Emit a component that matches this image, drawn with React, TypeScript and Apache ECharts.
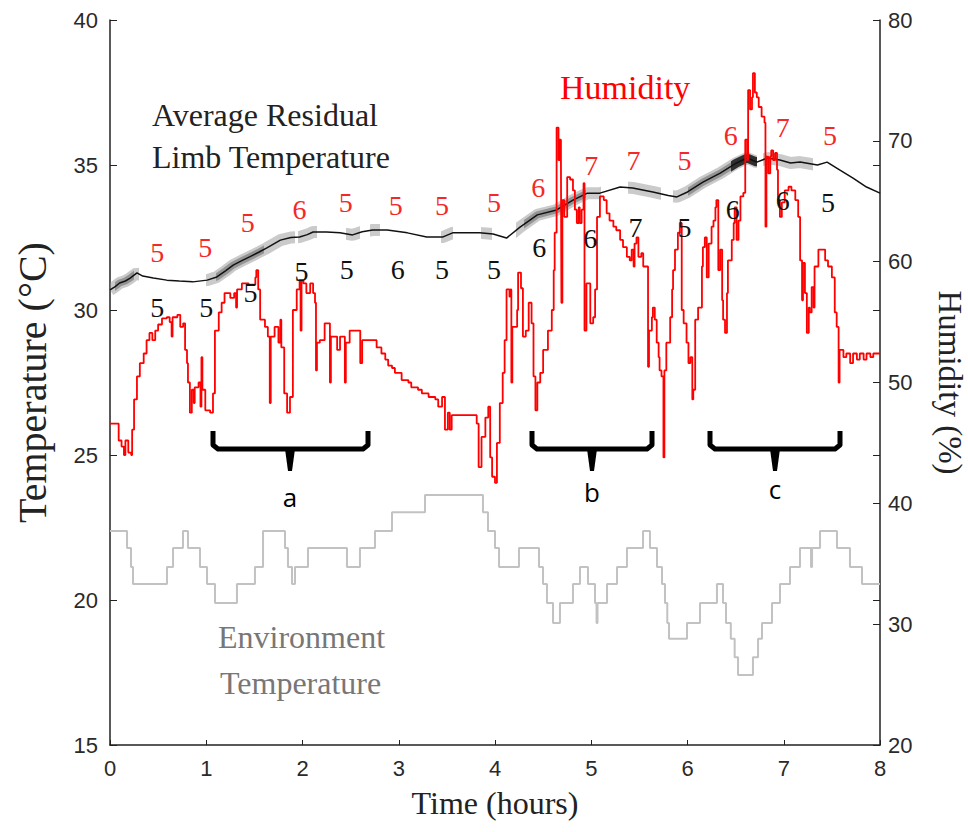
import React, { useEffect, useRef } from "react";
import * as echarts from "echarts";

// Humidity (%) vs time (hours) — right axis
const humidityPoints: [number, number][] = [
  [0, 46.6], [0.09, 45.2], [0.12, 44.7], [0.145, 44.0], [0.16, 45.2], [0.19, 44.2], [0.22, 44.0], [0.23, 46.1],
  [0.25, 48.6], [0.28, 50.5], [0.31, 51.6], [0.35, 52.4], [0.38, 53.5], [0.41, 54.1], [0.44, 53.5], [0.47, 54.3],
  [0.5, 54.8], [0.54, 55.3], [0.59, 55.4], [0.62, 55.0], [0.64, 53.8], [0.65, 55.4], [0.7, 55.6], [0.73, 54.6],
  [0.76, 54.9], [0.78, 52.7], [0.8, 51.6], [0.81, 50.0], [0.83, 47.5], [0.85, 49.4], [0.87, 48.3], [0.88, 49.6],
  [0.92, 50.0], [0.94, 48.0], [0.95, 52.1], [0.96, 49.4], [0.99, 47.7], [1.04, 47.5], [1.07, 49.1], [1.09, 54.3],
  [1.13, 55.8], [1.16, 56.6], [1.19, 57.4], [1.25, 57.0], [1.29, 57.4], [1.31, 56.2], [1.32, 57.7], [1.37, 58.2],
  [1.44, 58.1], [1.51, 58.7], [1.52, 59.3], [1.54, 57.7], [1.56, 55.2], [1.61, 54.6], [1.64, 53.8], [1.66, 48.3],
  [1.67, 53.8], [1.71, 54.6], [1.75, 53.3], [1.77, 55.2], [1.78, 52.9], [1.81, 49.1], [1.84, 47.5], [1.87, 48.8],
  [1.9, 56.0], [1.94, 57.7], [1.97, 58.5], [1.98, 54.3], [1.99, 58.5], [2.01, 58.2], [2.04, 57.4], [2.08, 58.2],
  [2.11, 57.4], [2.13, 56.6], [2.14, 51.0], [2.15, 53.3], [2.18, 53.5], [2.23, 54.9], [2.285, 50.0], [2.295, 53.8],
  [2.36, 52.7], [2.39, 53.8], [2.44, 50.0], [2.45, 53.3], [2.49, 54.3], [2.6, 51.6], [2.62, 53.5], [2.77, 52.9],
  [2.82, 52.4], [2.86, 51.9], [2.89, 51.4], [2.93, 51.2], [2.96, 50.8], [3.03, 50.2], [3.1, 50.0], [3.13, 49.6],
  [3.2, 49.4], [3.24, 49.1], [3.31, 48.8], [3.38, 48.6], [3.41, 48.0], [3.45, 48.8], [3.48, 46.1], [3.51, 47.5],
  [3.53, 46.1], [3.55, 47.3], [3.81, 46.6], [3.83, 43.0], [3.86, 45.5], [3.9, 47.1], [3.93, 48.0], [3.95, 43.8],
  [3.97, 42.2], [4.0, 41.7], [4.02, 45.0], [4.05, 48.3], [4.08, 50.8], [4.1, 53.5], [4.12, 57.7], [4.15, 57.1],
  [4.16, 57.7], [4.17, 50.0], [4.18, 54.6], [4.23, 56.0], [4.24, 59.1], [4.27, 57.8], [4.29, 53.8], [4.32, 54.3],
  [4.35, 56.6], [4.38, 54.9], [4.4, 50.5], [4.42, 47.7], [4.44, 50.0], [4.47, 50.8], [4.5, 52.7], [4.55, 54.3],
  [4.59, 56.0], [4.61, 59.3], [4.62, 62.4], [4.64, 71.1], [4.66, 68.4], [4.67, 70.1], [4.685, 68.4], [4.69, 56.6],
  [4.7, 65.1], [4.72, 63.7], [4.75, 67.0], [4.78, 66.8], [4.81, 65.9], [4.83, 64.3], [4.85, 63.2], [4.87, 64.5],
  [4.88, 63.2], [4.9, 64.3], [4.92, 66.5], [4.93, 54.3], [4.95, 58.2], [4.99, 54.9], [5.02, 55.4], [5.04, 57.7],
  [5.06, 63.7], [5.09, 65.4], [5.13, 65.1], [5.16, 64.0], [5.19, 63.4], [5.23, 62.9], [5.26, 62.6], [5.3, 61.8],
  [5.33, 61.2], [5.37, 60.4], [5.4, 60.1], [5.42, 61.0], [5.44, 59.6], [5.45, 61.5], [5.47, 62.0], [5.49, 60.4],
  [5.52, 60.7], [5.54, 59.6], [5.59, 51.3], [5.6, 54.3], [5.63, 55.4], [5.64, 56.2], [5.66, 55.2], [5.68, 53.3],
  [5.7, 52.1], [5.71, 51.0], [5.73, 50.5], [5.75, 43.8], [5.76, 51.0], [5.78, 53.3], [5.82, 55.4], [5.84, 57.7],
  [5.85, 59.3], [5.87, 61.0], [5.9, 62.4], [5.92, 63.2], [5.94, 56.0], [5.96, 54.9], [5.99, 53.3], [6.01, 51.6],
  [6.03, 52.1], [6.05, 48.6], [6.06, 49.4], [6.08, 55.2], [6.11, 56.2], [6.15, 59.6], [6.16, 61.2], [6.18, 62.0],
  [6.2, 58.7], [6.22, 61.5], [6.25, 62.9], [6.27, 63.4], [6.29, 64.5], [6.3, 65.1], [6.32, 59.3], [6.34, 61.0],
  [6.36, 56.8], [6.37, 55.2], [6.39, 54.1], [6.41, 57.4], [6.42, 60.1], [6.46, 61.8], [6.48, 63.2], [6.49, 64.5],
  [6.51, 61.8], [6.53, 63.4], [6.55, 65.4], [6.58, 65.7], [6.6, 70.1], [6.62, 68.4], [6.63, 74.2], [6.65, 72.6],
  [6.67, 73.6], [6.68, 75.6], [6.7, 74.0], [6.72, 73.6], [6.74, 72.8], [6.77, 72.0], [6.8, 71.5], [6.81, 62.9],
  [6.82, 68.7], [6.84, 67.3], [6.86, 68.7], [6.87, 69.2], [6.89, 68.4], [6.91, 69.0], [6.93, 67.6], [6.94, 65.1],
  [6.96, 63.7], [6.98, 64.9], [7.01, 65.9], [7.05, 66.2], [7.08, 65.9], [7.12, 65.1], [7.15, 63.7], [7.17, 60.1],
  [7.19, 56.8], [7.2, 59.9], [7.22, 57.4], [7.24, 54.1], [7.26, 56.2], [7.27, 55.8], [7.29, 57.9], [7.31, 56.2],
  [7.32, 59.6], [7.36, 61.0], [7.43, 60.1], [7.46, 59.6], [7.5, 58.7], [7.53, 55.8], [7.55, 54.6], [7.57, 50.0],
  [7.58, 52.7], [7.62, 52.1], [7.65, 52.4], [7.69, 51.6], [7.72, 52.4], [7.76, 51.9], [7.79, 52.4], [7.83, 51.9],
  [7.86, 52.4], [7.9, 52.1], [7.93, 52.4], [8.0, 52.4],
];

// Average residual limb temperature (°C) — left axis
const limbPoints: [number, number][] = [
  [0, 30.69], [0.05, 30.8], [0.1, 30.93], [0.16, 31.0], [0.21, 31.1], [0.28, 31.28], [0.34, 31.17], [0.45, 31.1],
  [0.59, 31.03], [0.72, 31.0], [0.86, 30.97], [1.01, 31.03], [1.11, 31.14], [1.2, 31.35], [1.28, 31.55], [1.37, 31.7],
  [1.45, 31.83], [1.55, 32.0], [1.63, 32.14], [1.77, 32.41], [1.88, 32.5], [1.97, 32.52], [2.05, 32.6], [2.11, 32.69],
  [2.25, 32.69], [2.39, 32.66], [2.52, 32.59], [2.62, 32.7], [2.73, 32.76], [2.88, 32.76], [3.09, 32.66], [3.29, 32.52],
  [3.46, 32.52], [3.56, 32.66], [3.71, 32.66], [3.84, 32.66], [3.98, 32.62], [4.12, 32.48], [4.26, 32.86], [4.44, 33.28],
  [4.64, 33.45], [4.81, 33.79], [4.96, 34.03], [5.09, 34.03], [5.3, 34.24], [5.43, 34.21], [5.64, 34.07], [5.8, 33.95],
  [5.89, 33.9], [6.0, 34.07], [6.16, 34.41], [6.34, 34.72], [6.51, 35.07], [6.62, 35.24], [6.72, 35.1], [6.83, 35.24],
  [6.96, 35.17], [7.07, 35.07], [7.17, 35.1], [7.35, 35.0], [7.45, 35.1], [7.58, 34.83], [7.72, 34.55], [7.86, 34.24],
  [8.0, 34.03],
];

// Environment temperature (°C) — left axis, stepped
const envPoints: [number, number][] = [
  [0, 22.38], [0.177, 21.79], [0.218, 21.14], [0.239, 20.55], [0.592, 21.14], [0.655, 21.79], [0.758, 22.38],
  [0.81, 21.79], [0.935, 21.14], [1.008, 20.55], [1.091, 19.9], [1.319, 20.55], [1.506, 21.14], [1.59, 22.38],
  [1.818, 21.79], [1.849, 21.14], [1.891, 20.55], [1.922, 21.14], [2.057, 21.79], [2.462, 21.14], [2.597, 21.79],
  [2.753, 22.38], [2.93, 23.03], [3.273, 23.62], [3.875, 23.03], [3.927, 22.38], [4.0, 21.79], [4.042, 21.14],
  [4.249, 21.79], [4.457, 21.14], [4.499, 20.55], [4.54, 19.9], [4.603, 19.21], [4.675, 19.9], [4.81, 20.55],
  [4.883, 21.14], [4.966, 20.55], [5.039, 19.9], [5.055, 19.21], [5.065, 19.9], [5.164, 20.55], [5.268, 21.14],
  [5.371, 21.79], [5.538, 22.38], [5.61, 21.79], [5.683, 21.14], [5.735, 20.55], [5.766, 19.9], [5.79, 19.21],
  [5.808, 18.66], [5.995, 19.21], [6.13, 19.9], [6.306, 20.55], [6.369, 19.9], [6.4, 19.21], [6.45, 18.66],
  [6.49, 18.03], [6.525, 17.41], [6.68, 18.03], [6.733, 18.66], [6.774, 19.21], [6.878, 19.9], [6.961, 20.55],
  [7.065, 21.14], [7.169, 21.79], [7.283, 21.14], [7.294, 21.79], [7.377, 22.38], [7.553, 21.79], [7.688, 21.14],
  [7.813, 20.55], [8.0, 20.55],
];

// Time ranges with grey scatter cloud around the limb temperature line
const lightBandRanges: [number, number][] = [
  [0, 0.3], [1.0, 1.92], [1.95, 2.15], [2.45, 2.6], [2.7, 2.8], [3.44, 3.56], [3.85, 3.97],
  [4.22, 5.1], [5.38, 5.72], [5.85, 6.72], [6.78, 7.3],
];
const midBandRanges: [number, number][] = [[0.05, 0.25], [1.1, 1.6], [4.3, 4.95], [6.0, 6.45]];
const darkBandRanges: [number, number][] = [[6.45, 6.72]];

// Counts written above (red) and below (black) the limb temperature line
const upperCountTimes = [0.49, 0.99, 1.43, 1.97, 2.45, 2.97, 3.45, 3.99, 4.45, 5.0, 5.44, 5.97, 6.45, 6.99, 7.48];
const upperCountTemps = [31.97, 32.14, 33.03, 33.48, 33.72, 33.59, 33.59, 33.69, 34.24, 34.97, 35.14, 35.17, 36.03, 36.28, 36.03];
const upperCounts = ["5", "5", "5", "6", "5", "5", "5", "5", "6", "7", "7", "5", "6", "7", "5"];
const lowerCountTimes = [0.49, 1.0, 1.46, 1.99, 2.46, 2.99, 3.45, 3.99, 4.46, 4.99, 5.46, 5.97, 6.47, 6.99, 7.46];
const lowerCountTemps = [30.07, 30.1, 30.59, 31.34, 31.38, 31.38, 31.38, 31.41, 32.17, 32.48, 32.83, 32.86, 33.45, 33.79, 33.69];
const lowerCounts = ["5", "5", "5", "5", "5", "6", "5", "5", "6", "6", "7", "5", "6", "6", "5"];

const SERIF = "Liberation Serif";
const SANS = "Liberation Sans";

function bracket(x0: number, x1: number, xc: number, label: string, labelY: number): any[] {
  const top = 431;
  const bar = 449;
  return [
    {
      type: "polyline",
      shape: { points: [[x0, top], [x0, bar - 4], [x0 + 5, bar], [x1 - 5, bar], [x1, bar - 4], [x1, top]] },
      style: { stroke: "#000", lineWidth: 5, fill: null, lineJoin: "round" },
    },
    {
      type: "polygon",
      shape: { points: [[xc - 5, bar], [xc + 5, bar], [xc + 2, 471], [xc - 2, 471]] },
      style: { fill: "#000" },
    },
    {
      type: "text",
      style: {
        x: xc, y: labelY, text: label, fill: "#000",
        font: "26px Open Sans", textAlign: "center", textVerticalAlign: "middle",
      },
    },
  ];
}

function textEl(x: number, y: number, text: string, fill: string, size: number): any {
  return {
    type: "text",
    style: { x, y, text, fill, font: `${size}px ${SERIF}`, textVerticalAlign: "middle" },
  };
}

function bandVisualMap(seriesIndex: number, ranges: [number, number][], color: string): any {
  return {
    type: "piecewise",
    show: false,
    seriesIndex,
    dimension: 0,
    pieces: ranges.map(([a, b]) => ({ gte: a, lte: b, color })),
    outOfRange: { color: "rgba(0,0,0,0)" },
  };
}

export default function App() {
  const ref = useRef<HTMLDivElement>(null);
  useEffect(() => {
    if (!ref.current) return;
    const chart = echarts.init(ref.current, undefined, { renderer: "svg" });
    const axisLine = { show: true, lineStyle: { color: "#222", width: 1.5 } };
    const axisLabel = { fontFamily: SANS, fontSize: 22, color: "#2a2a2a" };
    const staticGraphics = [
      textEl(152, 115, "Average Residual", "#222", 32),
      textEl(152, 157, "Limb Temperature", "#222", 32),
      textEl(560, 87, "Humidity", "#ff0000", 34),
      textEl(218, 637, "Environment", "#777", 32),
      textEl(220, 683, "Temperature", "#777", 32),
      ...bracket(213, 368, 290, "a", 497),
      ...bracket(532, 652, 592, "b", 492),
      ...bracket(710, 840, 775, "c", 489),
    ];
    const option: any = {
      animation: false,
      backgroundColor: "#fff",
      grid: { left: 110, top: 20, right: 88, bottom: 87, outerBoundsMode: "none", containLabel: false },
      xAxis: {
        type: "value", min: 0, max: 8, interval: 1,
        axisLine, axisTick: { inside: true, length: 5, lineStyle: { color: "#222" } },
        axisLabel: { ...axisLabel, margin: 12 },
        splitLine: { show: false },
        name: "Time (hours)", nameLocation: "middle", nameGap: 42,
        nameTextStyle: { fontFamily: SERIF, fontSize: 32, color: "#222" },
      },
      yAxis: [
        {
          type: "value", min: 15, max: 40, interval: 5, position: "left",
          axisLine, axisTick: { inside: true, length: 7, lineStyle: { color: "#222" } },
          axisLabel: { ...axisLabel, margin: 12 },
          splitLine: { show: false },
          name: "Temperature (°C)", nameLocation: "middle", nameGap: 58, nameRotate: 90,
          nameTextStyle: { fontFamily: SERIF, fontSize: 40, color: "#222" },
        },
        {
          type: "value", min: 20, max: 80, interval: 10, position: "right",
          axisLine, axisTick: { inside: true, length: 7, lineStyle: { color: "#222" } },
          axisLabel: { ...axisLabel, margin: 8 },
          splitLine: { show: false },
          name: "Humidity (%)", nameLocation: "middle", nameGap: 53, nameRotate: -90,
          nameTextStyle: { fontFamily: SERIF, fontSize: 33, color: "#222" },
        },
        {
          type: "value", min: 15, max: 40, interval: 5, position: "right",
          axisLine: { show: false }, axisTick: { show: true, inside: true, length: 7, lineStyle: { color: "#222" } },
          axisLabel: { show: false }, splitLine: { show: false },
        },
      ],
      visualMap: [
        bandVisualMap(1, lightBandRanges, "rgba(150,150,150,0.5)"),
        bandVisualMap(2, midBandRanges, "rgba(80,80,80,0.45)"),
        bandVisualMap(3, darkBandRanges, "rgba(20,20,20,0.85)"),
      ],
      series: [
        {
          name: "Environment Temperature", type: "line", step: "end", yAxisIndex: 0,
          data: envPoints, showSymbol: false, lineStyle: { color: "#c2c2c2", width: 2 }, z: 2,
        },
        {
          name: "band-light", type: "line", yAxisIndex: 0, data: limbPoints, showSymbol: false,
          lineStyle: { width: 12 }, z: 3,
        },
        {
          name: "band-mid", type: "line", yAxisIndex: 0, data: limbPoints, showSymbol: false,
          lineStyle: { width: 7 }, z: 3,
        },
        {
          name: "band-dark", type: "line", yAxisIndex: 0, data: limbPoints, showSymbol: false,
          lineStyle: { width: 9 }, z: 3,
        },
        {
          name: "Average Residual Limb Temperature", type: "line", yAxisIndex: 0, data: limbPoints,
          showSymbol: false, lineStyle: { color: "#111", width: 1.5 }, z: 4,
        },
        {
          name: "Humidity", type: "line", step: "end", yAxisIndex: 1, data: humidityPoints,
          showSymbol: false, lineStyle: { color: "#ff0000", width: 1.8 }, z: 5,
        },
      ],
      graphic: staticGraphics,
    };
    chart.setOption(option);

    // Count annotations placed through the chart's own axis scales
    const countText = (t: number, temp: number, text: string, fill: string) => {
      const [px, py] = chart.convertToPixel({ xAxisIndex: 0, yAxisIndex: 0 }, [t, temp]) as number[];
      return {
        type: "text",
        z: 100,
        style: {
          x: px, y: py, text, fill, font: `28px ${SERIF}`,
          textAlign: "center", textVerticalAlign: "middle",
        },
      };
    };
    const counts = [
      ...upperCountTimes.map((t, i) => countText(t, upperCountTemps[i], upperCounts[i], "#f52828")),
      ...lowerCountTimes.map((t, i) => countText(t, lowerCountTemps[i], lowerCounts[i], "#111")),
    ];
    chart.setOption({ graphic: [...staticGraphics, ...counts] });
    return () => chart.dispose();
  }, []);
  return (
    <div
      ref={ref}
      style={{ position: "fixed", left: 0, top: 0, width: 968, height: 832, background: "#fff" }}
    />
  );
}
